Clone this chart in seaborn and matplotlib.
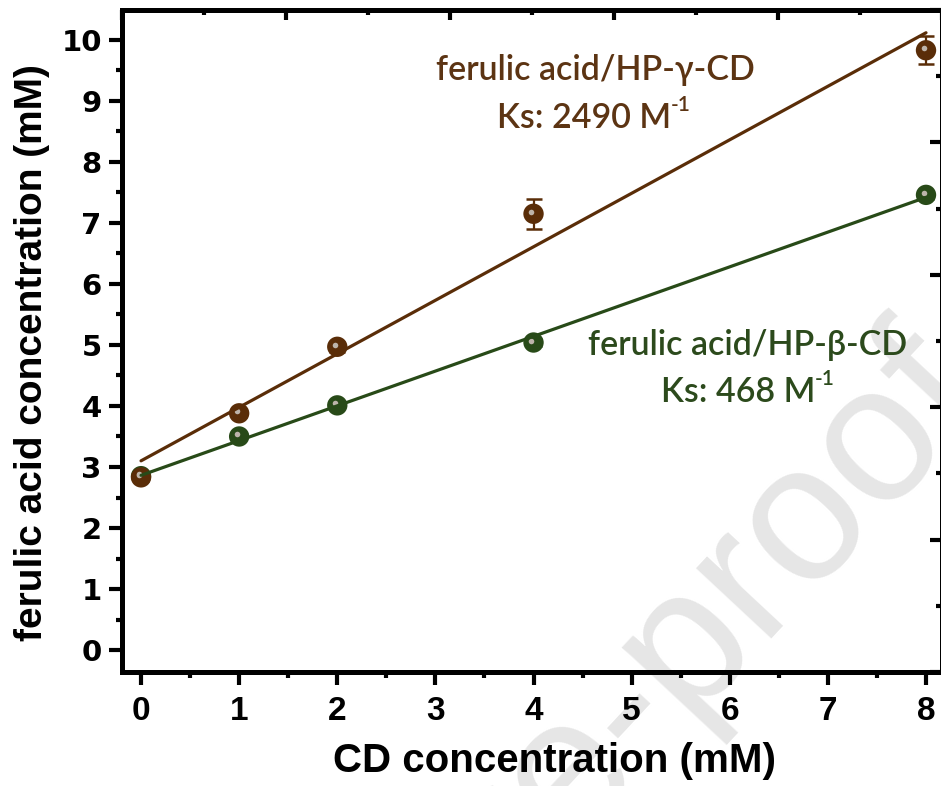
import numpy as np
import pandas as pd
import matplotlib
matplotlib.use("Agg")
import matplotlib.pyplot as plt
import seaborn as sns
from matplotlib.ticker import MultipleLocator
from matplotlib.transforms import ScaledTranslation

# ---------------- data ----------------
cd_conc = [0, 1, 2, 4, 8]                       # CD concentration (mM)
gamma_fa = [2.83, 3.88, 4.97, 7.15, 9.83]        # ferulic acid / HP-γ-CD (mM)
gamma_err = [0.06, 0.06, 0.08, 0.25, 0.23]
beta_fa = [2.85, 3.50, 4.01, 5.04, 7.46]         # ferulic acid / HP-β-CD (mM)
beta_err = [0.04, 0.04, 0.05, 0.05, 0.06]
x_ticks = [0, 1, 2, 3, 4, 5, 6, 7, 8]
y_ticks = [0, 1, 2, 3, 4, 5, 6, 7, 8, 9, 10]
gamma_label = ["ferulic acid/HP-γ-CD", "Ks: 2490 M", "-1"]
beta_label = ["ferulic acid/HP-β-CD", "Ks: 468 M", "-1"]
x_title = "CD concentration (mM)"
y_title = "ferulic acid concentration (mM)"
watermark = "Journal Pre-proof"

BROWN = "#5a2d08"
BROWN_TXT = "#5c3413"
GREEN = "#284a18"
GREEN_TXT = "#2c4a1c"

sns.set_theme(style="white")
plt.rcParams["font.family"] = ["Liberation Sans", "DejaVu Sans"]
for k in ("text.color", "axes.labelcolor", "xtick.color", "ytick.color", "axes.edgecolor"):
    plt.rcParams[k] = "black"

df = pd.DataFrame({
    "cd": cd_conc + cd_conc,
    "fa": beta_fa + gamma_fa,
    "system": ["HP-β-CD"] * len(cd_conc) + ["HP-γ-CD"] * len(cd_conc),
})
palette = {"HP-β-CD": GREEN, "HP-γ-CD": BROWN}

fig = plt.figure(figsize=(9.41, 7.86), dpi=100, facecolor="white")
W, H = 941, 786
ax = fig.add_axes([122 / W, 1 - 672 / H, (942 - 122) / W, (672 - 10) / H])
ax.set_facecolor("none")

# watermark (behind everything)
fig.text(992 / W, 1 - 403 / H, watermark, rotation=47, rotation_mode="anchor",
         ha="right", va="baseline", fontsize=140, color="#e6e6e6",
         family=["Liberation Sans", "DejaVu Sans"], zorder=-10)

# error bars
ax.errorbar(cd_conc, beta_fa, yerr=beta_err, fmt="none", ecolor=GREEN,
            elinewidth=1.6, capsize=5.5, capthick=1.8, zorder=2)
ax.errorbar(cd_conc, gamma_fa, yerr=gamma_err, fmt="none", ecolor=BROWN,
            elinewidth=1.6, capsize=5.5, capthick=1.8, zorder=3)

# markers
sns.scatterplot(data=df, x="cd", y="fa", hue="system", palette=palette, s=215,
                linewidth=0, legend=False, ax=ax, zorder=4)
# specular highlights of the sphere markers
hl = ScaledTranslation(-2.5 / 100, 2.0 / 100, fig.dpi_scale_trans)
ax.scatter(df["cd"], df["fa"], s=16, color="#bdb4aa", linewidth=0,
           transform=ax.transData + hl, zorder=5)

# linear fits
sns.regplot(x=cd_conc, y=gamma_fa, scatter=False, ci=None, truncate=True, ax=ax,
            line_kws={"color": BROWN, "lw": 2.3, "zorder": 6})
sns.regplot(x=cd_conc, y=beta_fa, scatter=False, ci=None, truncate=True, ax=ax,
            line_kws={"color": GREEN, "lw": 2.3, "zorder": 6})

ax.set_xlim(-0.194, 8.163)
ax.set_ylim(-0.36, 10.49)
ax.set_xticks(x_ticks)
ax.set_yticks(y_ticks)
ax.xaxis.set_minor_locator(MultipleLocator(0.5))
ax.yaxis.set_minor_locator(MultipleLocator(0.5))
ax.tick_params(axis="both", which="major", direction="out", length=9.5, width=3, color="black")
ax.tick_params(axis="both", which="minor", direction="out", length=4.5, width=3, color="black")
ax.tick_params(axis="x", pad=8)
ax.tick_params(axis="y", pad=5)

for lab in ax.get_xticklabels():
    lab.set_fontfamily(["Liberation Sans", "DejaVu Sans"])
    lab.set_fontweight("bold")
    lab.set_fontsize(24)
for lab in ax.get_yticklabels():
    lab.set_fontfamily(["DejaVu Sans"])
    lab.set_fontweight("heavy")
    lab.set_fontsize(21)

ax.set_xlabel(x_title, fontsize=29, fontweight="bold",
              family=["Liberation Sans", "DejaVu Sans"])
ax.xaxis.set_label_coords(0.528, -0.105)
ax.set_ylabel(y_title, fontsize=28, fontweight="bold",
              family=["Liberation Sans", "DejaVu Sans"])
ax.yaxis.set_label_coords(-0.088, 0.482)

for sp in ax.spines.values():
    sp.set_linewidth(3.4)
    sp.set_color("black")

# mirrored top / right axes with their own (inward) ticks
ax_top = ax.twiny()
ax_top.set_xlim(0, 5)
ax_top.xaxis.set_major_locator(MultipleLocator(1))
ax_top.xaxis.set_minor_locator(MultipleLocator(0.5))
ax_top.tick_params(axis="x", which="major", direction="in", length=7.5, width=3, labeltop=False)
ax_top.tick_params(axis="x", which="minor", direction="in", length=3.5, width=3)
ax_right = ax.twinx()
ax_right.set_ylim(0, 5)
ax_right.yaxis.set_major_locator(MultipleLocator(1))
ax_right.yaxis.set_minor_locator(MultipleLocator(0.5))
ax_right.tick_params(axis="y", which="major", direction="in", length=9, width=3, labelright=False)
ax_right.tick_params(axis="y", which="minor", direction="in", length=4, width=3)
for a in (ax_top, ax_right):
    a.set_facecolor("none")
    for sp in a.spines.values():
        sp.set_linewidth(3.4)
        sp.set_color("black")

# annotations
txt_font = ["Lato", "DejaVu Sans"]


def label_block(cx1, y1, cx2, y2, lines, color):
    fig.text(cx1 / W, 1 - y1 / H, lines[0], fontsize=24.5, color=color,
             family=txt_font, weight="semibold", ha="center", va="center")
    t = fig.text(cx2 / W, 1 - y2 / H, lines[1], fontsize=24.5, color=color,
                 family=txt_font, weight="semibold", ha="center", va="center")
    ax.annotate(lines[2], xy=(1.0, 0.92), xycoords=t, ha="left", va="center",
                fontsize=15, color=color, family=txt_font, weight="semibold",
                annotation_clip=False)


label_block(595, 70, 584, 118, gamma_label, BROWN_TXT)
label_block(748, 345, 738, 392, beta_label, GREEN_TXT)

fig.savefig("out.png", dpi=100)
